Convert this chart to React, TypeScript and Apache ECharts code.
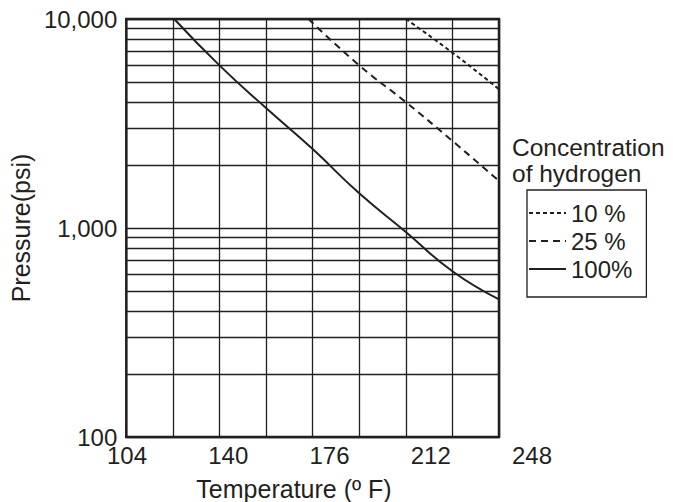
import React, { useEffect, useRef } from "react";
import * as echarts from "echarts";

// Temperature (°F) and pressure (psi) readings for each hydrogen concentration
const T_10 = [212, 230, 248];
const P_10 = [10000, 6900, 4610];

const T_25 = [174.4, 194, 212, 230, 248];
const P_25 = [10000, 6000, 4000, 2610, 1680];

const T_100 = [122.5, 140, 158, 176, 194, 212, 230, 248];
const P_100 = [10000, 6000, 3750, 2385, 1465, 958, 621, 456];

const SERIES_NAMES = ["10 %", "25 %", "100%"];
const MINOR_PRESSURES = [200, 300, 400, 500, 600, 700, 800, 900, 2000, 3000, 4000, 5000, 6000, 7000, 8000, 9000];
const X_MIN = 104;
const X_MAX = 248;
const X_GRID_STEP = 18;
const X_LABEL_STEP = 36;
const Y_MIN = 100;
const Y_MAX = 10000;

const INK = "#231f20";
const FONT = "'Liberation Sans', Arial, Helvetica, sans-serif";

const pairs = (xs: number[], ys: number[]) => xs.map((x, i) => [x, ys[i]]);

export default function App() {
  const ref = useRef<HTMLDivElement>(null);

  useEffect(() => {
    if (!ref.current) return;
    const chart = echarts.init(ref.current, null, { renderer: "svg" });
    const lineBase = { type: "line", symbol: "none", smooth: 0.5, xAxisIndex: 0, yAxisIndex: 0 } as any;
    chart.setOption({
      animation: false,
      backgroundColor: "#ffffff",
      textStyle: { fontFamily: FONT, color: INK },
      title: {
        text: "Concentration\nof hydrogen",
        left: 512,
        top: 134,
        padding: 0,
        textStyle: { fontSize: 24.5, fontWeight: "normal", lineHeight: 26, color: INK, fontFamily: FONT },
      },
      legend: {
        data: SERIES_NAMES,
        orient: "vertical",
        left: 527,
        top: 190,
        padding: [11, 14, 16, 1],
        itemWidth: 37,
        itemHeight: 14,
        itemGap: 4,
        borderColor: INK,
        borderWidth: 1.3,
        selectedMode: false,
        itemStyle: { color: "transparent", borderWidth: 0, opacity: 0 },
        textStyle: { fontSize: 24, color: INK, fontFamily: FONT },
      },
      grid: [
        { left: 113, right: 174, top: 19, bottom: 65, show: true, borderColor: INK, borderWidth: 2.5, backgroundColor: "transparent" },
        { left: 127, right: 141, top: 19, bottom: 65, show: false },
      ],
      xAxis: [
        {
          type: "value",
          gridIndex: 0,
          min: X_MIN,
          max: X_MAX,
          interval: X_GRID_STEP,
          axisLine: { show: false },
          axisTick: { show: false },
          axisLabel: { show: false },
          splitLine: { show: true, lineStyle: { color: INK, width: 1.3 } },
        },
        {
          type: "value",
          gridIndex: 1,
          min: X_MIN,
          max: X_MAX,
          interval: X_LABEL_STEP,
          axisLine: { show: false },
          axisTick: { show: false },
          splitLine: { show: false },
          axisLabel: { fontSize: 24, color: INK, fontFamily: FONT, margin: 6 },
        },
      ],
      yAxis: [
        {
          type: "log",
          logBase: 10,
          gridIndex: 0,
          min: Y_MIN,
          max: Y_MAX,
          name: "Pressure(psi)",
          nameLocation: "middle",
          nameGap: 80,
          nameTextStyle: { fontSize: 25, color: INK, fontFamily: FONT },
          axisLine: { show: false },
          axisTick: { show: false },
          splitLine: { show: true, lineStyle: { color: INK, width: 1.3 } },
          axisLabel: {
            fontSize: 24,
            color: INK,
            fontFamily: FONT,
            margin: 9,
            padding: [0, 0, 5, 0],
            formatter: (v: number) => Math.round(v).toLocaleString("en-US"),
          },
        },
        { type: "value", gridIndex: 1, show: false, min: 0, max: 1 },
      ],
      graphic: [
        {
          type: "text",
          x: 294,
          y: 489,
          style: {
            text: "Temperature (º F)",
            fontSize: 25,
            fontFamily: FONT,
            fill: INK,
            align: "center",
            verticalAlign: "middle",
            textAlign: "center",
            textVerticalAlign: "middle",
          },
        },
      ],
      series: [
        {
          ...lineBase,
          name: SERIES_NAMES[0],
          data: pairs(T_10, P_10),
          lineStyle: { color: INK, width: 2, type: [4, 3] },
          itemStyle: { color: INK },
        },
        {
          ...lineBase,
          name: SERIES_NAMES[1],
          data: pairs(T_25, P_25),
          lineStyle: { color: INK, width: 2, type: [7, 5] },
          itemStyle: { color: INK },
        },
        {
          ...lineBase,
          name: SERIES_NAMES[2],
          data: pairs(T_100, P_100),
          lineStyle: { color: INK, width: 2, type: "solid" },
          itemStyle: { color: INK },
          markLine: {
            silent: true,
            symbol: ["none", "none"],
            label: { show: false },
            lineStyle: { color: INK, width: 1.3, type: "solid" },
            data: MINOR_PRESSURES.map((p) => ({ yAxis: p })),
          },
        },
      ],
    });
    return () => chart.dispose();
  }, []);

  return (
    <div
      ref={ref}
      style={{ position: "fixed", left: 0, top: 0, width: 673, height: 502, background: "#fff" }}
    />
  );
}
